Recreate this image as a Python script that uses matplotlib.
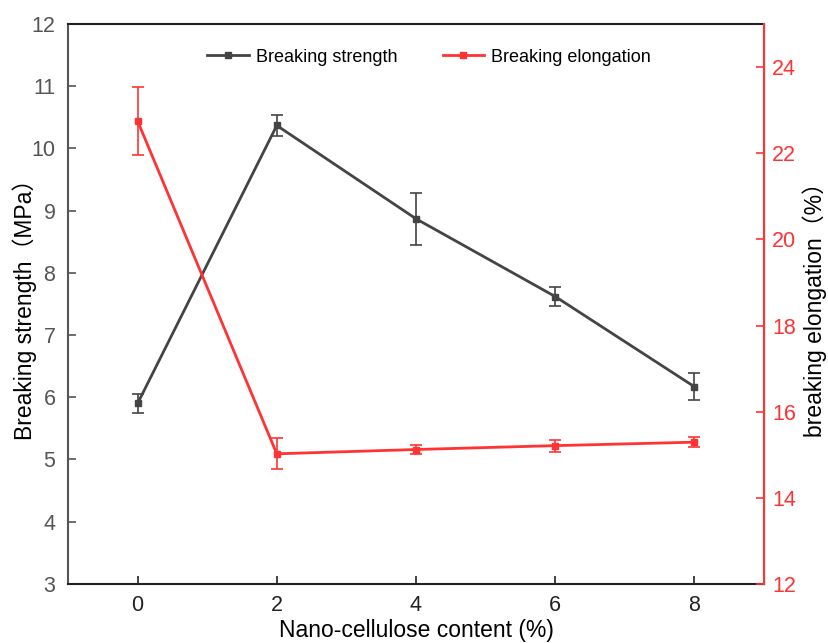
import numpy as np
import matplotlib
matplotlib.use("Agg")
from matplotlib import pyplot as plt
from matplotlib.lines import Line2D

plt.rcParams['font.family'] = ['Liberation Sans', 'Noto Sans CJK SC']

# data
content = [0, 2, 4, 6, 8]
strength = [5.90, 10.37, 8.87, 7.62, 6.17]
strength_err = [0.15, 0.17, 0.42, 0.16, 0.22]
elongation = [22.75, 15.02, 15.12, 15.21, 15.29]
elongation_err = [0.80, 0.36, 0.10, 0.14, 0.12]

gray = '#444444'
red = '#ff3333'

fig = plt.figure(figsize=(8.29, 6.43), dpi=100)
ax = fig.add_axes([0.082, 0.092, 0.8396, 0.8705])
ax2 = ax.twinx()

ax.errorbar(content, strength, yerr=strength_err, color=gray, marker='s', markersize=5,
            linewidth=2, elinewidth=1.2, capsize=4.5, capthick=1.2)
ax2.errorbar(content, elongation, yerr=elongation_err, color=red, marker='s', markersize=5,
             linewidth=2, elinewidth=1.2, capsize=4.5, capthick=1.2)

ax.set_xlim(-1, 9)
ax.set_ylim(3, 12)
ax2.set_ylim(12, 25)
ax.set_xticks(content)
ax.set_yticks(range(3, 13))
ax2.set_yticks(range(12, 25, 2))

ax.set_xlabel('Nano-cellulose content (%)', fontsize=16.5, labelpad=2)
ax.set_ylabel('Breaking strength（MPa）', fontsize=16.5, labelpad=-4)
ax2.set_ylabel('breaking elongation（%）', fontsize=16.5, labelpad=4)

ax.tick_params(axis='x', direction='in', labelsize=15.5, length=6, width=1.2,
               colors='#222222', pad=8)
ax.tick_params(axis='y', direction='in', labelsize=15.5, length=6, width=1.2,
               colors='#555555', pad=9)
ax2.tick_params(axis='y', direction='in', labelsize=15.5, length=6, width=1.2,
                colors=red, pad=6)

for s in ['left', 'top', 'bottom']:
    ax.spines[s].set_linewidth(1.5)
ax.spines['left'].set_color('#555555')
ax.spines['bottom'].set_color('#222222')
ax.spines['top'].set_color('#222222')
ax2.spines['right'].set_color(red)
ax2.spines['right'].set_linewidth(1.5)
ax2.spines['left'].set_visible(False)
ax2.spines['top'].set_visible(False)
ax2.spines['bottom'].set_visible(False)

handles = [Line2D([], [], color=gray, marker='s', markersize=5, linewidth=2),
           Line2D([], [], color=red, marker='s', markersize=5, linewidth=2)]
ax.legend(handles, ['Breaking strength', 'Breaking elongation'], loc='upper center',
          bbox_to_anchor=(0.519, 0.985), ncol=2, frameon=False, fontsize=13,
          handlelength=2.3, handletextpad=0.4, columnspacing=2.5)

fig.savefig('out.png', dpi=100)
